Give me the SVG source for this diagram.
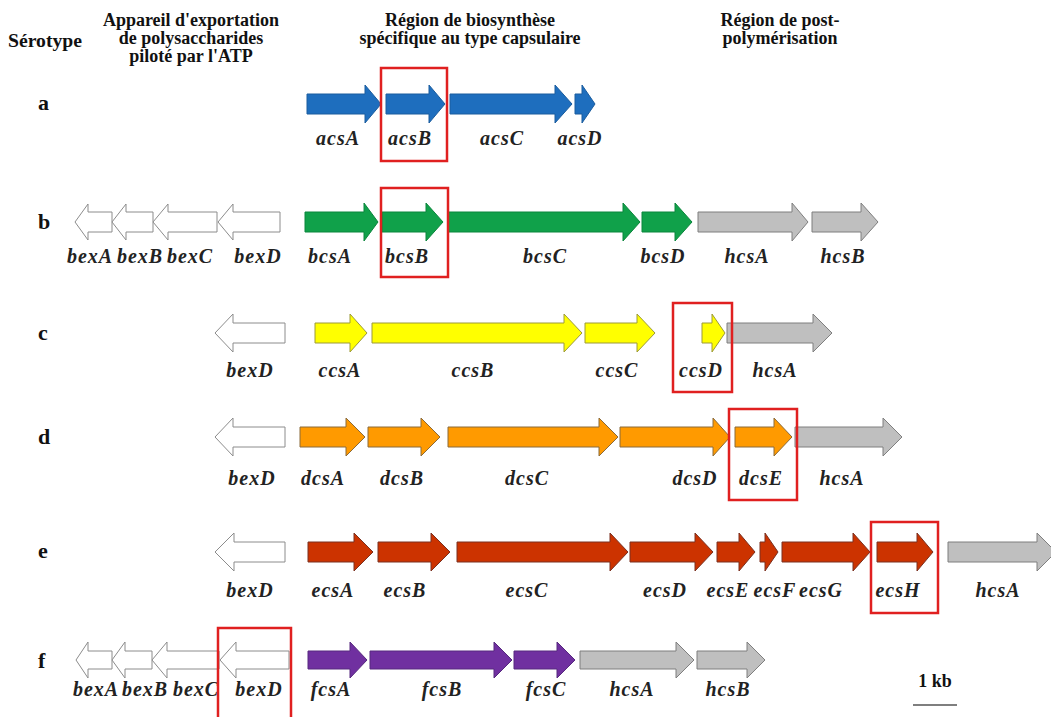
<svg xmlns="http://www.w3.org/2000/svg" width="1051" height="717" viewBox="0 0 1051 717">
<style>
.hdr{font-family:"Liberation Serif",serif;font-weight:bold;font-size:18px;fill:#111;text-anchor:middle}
.row{font-family:"Liberation Serif",serif;font-weight:bold;font-size:22px;fill:#111}
.lbl{font-family:"Liberation Serif",serif;font-weight:bold;font-style:italic;font-size:20px;letter-spacing:1px;fill:#222;text-anchor:middle}
.blue{fill:#1E6EBE;stroke:#1A5C9E;stroke-width:1}
.green{fill:#10A14A;stroke:#0B863C;stroke-width:1}
.yellow{fill:#FFFF00;stroke:#9C9A3A;stroke-width:1}
.orange{fill:#FF9A00;stroke:#8A6A3A;stroke-width:1}
.red{fill:#CC3300;stroke:#7A3020;stroke-width:1}
.purple{fill:#7030A0;stroke:#56287E;stroke-width:1}
.gray{fill:#BFBFBF;stroke:#7F7F7F;stroke-width:1}
.white{fill:#FFFFFF;stroke:#8C8C8C;stroke-width:1}
.box{fill:none;stroke:#E02020;stroke-width:2.5}
</style>
<rect width="1051" height="717" fill="#FFFFFF"/>
<g id="headers">
<text class="hdr" x="45" y="47" textLength="74" lengthAdjust="spacingAndGlyphs">Sérotype</text>
<text class="hdr" x="191" y="26">Appareil d'exportation</text>
<text class="hdr" x="191" y="44">de polysaccharides</text>
<text class="hdr" x="191" y="62">piloté par l'ATP</text>
<text class="hdr" x="470" y="26">Région de biosynthèse</text>
<text class="hdr" x="470" y="44">spécifique au type capsulaire</text>
<text class="hdr" x="780" y="26">Région de post-</text>
<text class="hdr" x="780" y="44">polymérisation</text>
</g>
<g id="row-a">
<text class="row" x="38" y="110">a</text>
<path class="blue" d="M307,94 L365,94 L365,85 L381,104 L365,123 L365,114 L307,114 Z"/>
<path class="blue" d="M386,94 L429,94 L429,85 L445,104 L429,123 L429,114 L386,114 Z"/>
<path class="blue" d="M450,94 L555,94 L555,85 L572,104 L555,123 L555,114 L450,114 Z"/>
<path class="blue" d="M575,94 L582,94 L582,85 L595,104 L582,123 L582,114 L575,114 Z"/>
<text class="lbl" x="338" y="145">acsA</text>
<text class="lbl" x="410" y="145">acsB</text>
<text class="lbl" x="502" y="145">acsC</text>
<text class="lbl" x="580" y="145">acsD</text>
<rect class="box" x="381" y="68" width="66" height="93"/>
</g>
<g id="row-b">
<text class="row" x="38" y="229">b</text>
<path class="white" d="M112,212 L88,212 L88,204 L75,222 L88,240 L88,232 L112,232 Z"/>
<path class="white" d="M153,212 L126,212 L126,204 L112,222 L126,240 L126,232 L153,232 Z"/>
<path class="white" d="M217,212 L168,212 L168,204 L153,222 L168,240 L168,232 L217,232 Z"/>
<path class="white" d="M280,212 L233,212 L233,204 L218,222 L233,240 L233,232 L280,232 Z"/>
<path class="green" d="M305,212 L364,212 L364,203 L378,222 L364,241 L364,232 L305,232 Z"/>
<path class="green" d="M382,212 L426,212 L426,203 L443,222 L426,241 L426,232 L382,232 Z"/>
<path class="green" d="M448,212 L623,212 L623,203 L640,222 L623,241 L623,232 L448,232 Z"/>
<path class="green" d="M642,212 L675,212 L675,203 L692,222 L675,241 L675,232 L642,232 Z"/>
<path class="gray" d="M698,212 L792,212 L792,203 L808,222 L792,241 L792,232 L698,232 Z"/>
<path class="gray" d="M812,212 L861,212 L861,203 L878,222 L861,241 L861,232 L812,232 Z"/>
<text class="lbl" x="90" y="263">bexA</text>
<text class="lbl" x="140" y="263">bexB</text>
<text class="lbl" x="190" y="263">bexC</text>
<text class="lbl" x="258" y="263">bexD</text>
<text class="lbl" x="330" y="263">bcsA</text>
<text class="lbl" x="407" y="263">bcsB</text>
<text class="lbl" x="545" y="263">bcsC</text>
<text class="lbl" x="663" y="263">bcsD</text>
<text class="lbl" x="747" y="263">hcsA</text>
<text class="lbl" x="843" y="263">hcsB</text>
<rect class="box" x="381" y="188" width="67" height="89"/>
</g>
<g id="row-c">
<text class="row" x="38" y="340">c</text>
<path class="white" d="M285,323 L233,323 L233,314 L215,333 L233,352 L233,343 L285,343 Z"/>
<path class="yellow" d="M315,323 L350,323 L350,314 L367,333 L350,352 L350,343 L315,343 Z"/>
<path class="yellow" d="M372,323 L564,323 L564,314 L582,333 L564,352 L564,343 L372,343 Z"/>
<path class="yellow" d="M585,323 L637,323 L637,314 L655,333 L637,352 L637,343 L585,343 Z"/>
<path class="yellow" d="M702,323 L712,323 L712,314 L725,333 L712,352 L712,343 L702,343 Z"/>
<path class="gray" d="M727,323 L813,323 L813,314 L832,333 L813,352 L813,343 L727,343 Z"/>
<text class="lbl" x="250" y="377">bexD</text>
<text class="lbl" x="340" y="377">ccsA</text>
<text class="lbl" x="473" y="377">ccsB</text>
<text class="lbl" x="617" y="377">ccsC</text>
<text class="lbl" x="701" y="377">ccsD</text>
<text class="lbl" x="775" y="377">hcsA</text>
<rect class="box" x="673" y="303" width="59" height="89"/>
</g>
<g id="row-d">
<text class="row" x="38" y="444">d</text>
<path class="white" d="M285,427 L233,427 L233,418 L215,437 L233,456 L233,447 L285,447 Z"/>
<path class="orange" d="M300,427 L346,427 L346,418 L365,437 L346,456 L346,447 L300,447 Z"/>
<path class="orange" d="M368,427 L421,427 L421,418 L440,437 L421,456 L421,447 L368,447 Z"/>
<path class="orange" d="M448,427 L599,427 L599,418 L618,437 L599,456 L599,447 L448,447 Z"/>
<path class="orange" d="M620,427 L713,427 L713,418 L730,437 L713,456 L713,447 L620,447 Z"/>
<path class="orange" d="M735,427 L774,427 L774,418 L792,437 L774,456 L774,447 L735,447 Z"/>
<path class="gray" d="M795,427 L883,427 L883,418 L902,437 L883,456 L883,447 L795,447 Z"/>
<text class="lbl" x="252" y="485">bexD</text>
<text class="lbl" x="323" y="485">dcsA</text>
<text class="lbl" x="402" y="485">dcsB</text>
<text class="lbl" x="527" y="485">dcsC</text>
<text class="lbl" x="695" y="485">dcsD</text>
<text class="lbl" x="761" y="485">dcsE</text>
<text class="lbl" x="842" y="485">hcsA</text>
<rect class="box" x="729" y="409" width="68" height="91"/>
</g>
<g id="row-e">
<text class="row" x="38" y="558">e</text>
<path class="white" d="M285,542 L234,542 L234,533 L215,552 L234,571 L234,562 L285,562 Z"/>
<path class="red" d="M308,542 L354,542 L354,533 L373,552 L354,571 L354,562 L308,562 Z"/>
<path class="red" d="M378,542 L431,542 L431,533 L450,552 L431,571 L431,562 L378,562 Z"/>
<path class="red" d="M457,542 L610,542 L610,533 L628,552 L610,571 L610,562 L457,562 Z"/>
<path class="red" d="M630,542 L695,542 L695,533 L713,552 L695,571 L695,562 L630,562 Z"/>
<path class="red" d="M717,542 L739,542 L739,533 L755,552 L739,571 L739,562 L717,562 Z"/>
<path class="red" d="M760,542 L765,542 L765,533 L778,552 L765,571 L765,562 L760,562 Z"/>
<path class="red" d="M782,542 L853,542 L853,533 L870,552 L853,571 L853,562 L782,562 Z"/>
<path class="red" d="M877,542 L917,542 L917,533 L933,552 L917,571 L917,562 L877,562 Z"/>
<path class="gray" d="M948,542 L1037,542 L1037,533 L1056,552 L1037,571 L1037,562 L948,562 Z"/>
<text class="lbl" x="250" y="597">bexD</text>
<text class="lbl" x="333" y="597">ecsA</text>
<text class="lbl" x="405" y="597">ecsB</text>
<text class="lbl" x="527" y="597">ecsC</text>
<text class="lbl" x="665" y="597">ecsD</text>
<text class="lbl" x="728" y="597">ecsE</text>
<text class="lbl" x="775" y="597">ecsF</text>
<text class="lbl" x="821" y="597">ecsG</text>
<text class="lbl" x="898" y="597">ecsH</text>
<text class="lbl" x="998" y="597">hcsA</text>
<rect class="box" x="871" y="522" width="67" height="91"/>
</g>
<g id="row-f">
<text class="row" x="38" y="668">f</text>
<path class="white" d="M112,651 L88,651 L88,642 L76,660 L88,678 L88,669 L112,669 Z"/>
<path class="white" d="M152,651 L125,651 L125,642 L112,660 L125,678 L125,669 L152,669 Z"/>
<path class="white" d="M219,651 L167,651 L167,642 L152,660 L167,678 L167,669 L219,669 Z"/>
<path class="white" d="M289,651 L236,651 L236,642 L220,660 L236,678 L236,669 L289,669 Z"/>
<path class="purple" d="M308,651 L350,651 L350,642 L367,660 L350,678 L350,669 L308,669 Z"/>
<path class="purple" d="M370,651 L494,651 L494,642 L512,660 L494,678 L494,669 L370,669 Z"/>
<path class="purple" d="M514,651 L557,651 L557,642 L575,660 L557,678 L557,669 L514,669 Z"/>
<path class="gray" d="M580,651 L676,651 L676,642 L694,660 L676,678 L676,669 L580,669 Z"/>
<path class="gray" d="M697,651 L747,651 L747,642 L765,660 L747,678 L747,669 L697,669 Z"/>
<text class="lbl" x="96" y="696">bexA</text>
<text class="lbl" x="145" y="696">bexB</text>
<text class="lbl" x="196" y="696">bexC</text>
<text class="lbl" x="259" y="696">bexD</text>
<text class="lbl" x="331" y="696">fcsA</text>
<text class="lbl" x="442" y="696">fcsB</text>
<text class="lbl" x="546" y="696">fcsC</text>
<text class="lbl" x="632" y="696">hcsA</text>
<text class="lbl" x="728" y="696">hcsB</text>
<rect class="box" x="218" y="628" width="73" height="95"/>
</g>
<g id="scale">
<text class="hdr" x="935" y="687">1 kb</text>
<line x1="913" y1="705" x2="957" y2="705" stroke="#555" stroke-width="1.5"/>
</g>
</svg>
